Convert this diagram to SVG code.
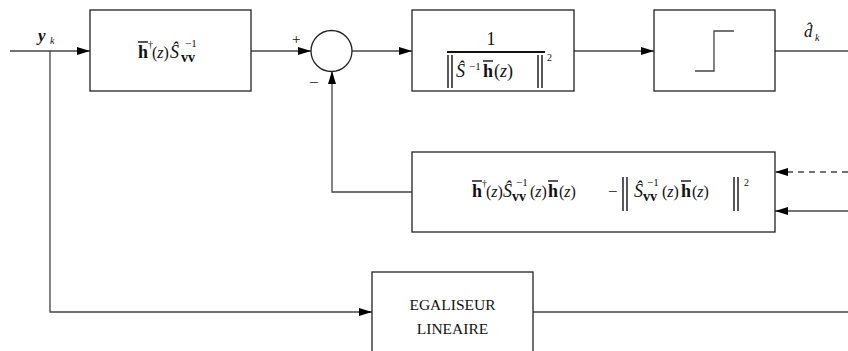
<svg xmlns="http://www.w3.org/2000/svg" width="848" height="351" viewBox="0 0 848 351">
<style>
.box{fill:#fff;stroke:#222;stroke-width:1.3}
.ln{fill:none;stroke:#444;stroke-width:1.3}
.bar{stroke:#111;stroke-width:1.4}
</style>
<defs>
<marker id="ah" markerWidth="13" markerHeight="8" refX="13" refY="4" orient="auto" markerUnits="userSpaceOnUse">
<path d="M0,0 L13,4 L0,8 Z" fill="#000"/>
</marker>
</defs>
<rect width="848" height="351" fill="#fff"/>
<g id="connectors">
<line class="ln" x1="10" y1="51" x2="90" y2="51" marker-end="url(#ah)"/>
<line class="ln" x1="251" y1="51" x2="311" y2="51" marker-end="url(#ah)"/>
<line class="ln" x1="352" y1="51" x2="412" y2="51" marker-end="url(#ah)"/>
<line class="ln" x1="574" y1="51" x2="654" y2="51" marker-end="url(#ah)"/>
<line class="ln" x1="775" y1="51" x2="848" y2="51"/>
<polyline class="ln" points="412,192 332,192 332,71" marker-end="url(#ah)"/>
<line class="ln" x1="848" y1="172" x2="775" y2="172" stroke-dasharray="6,5" marker-end="url(#ah)"/>
<line class="ln" x1="848" y1="211" x2="775" y2="211" marker-end="url(#ah)"/>
<polyline class="ln" points="50,51 50,312 372,312" marker-end="url(#ah)"/>
<line class="ln" x1="533" y1="312" x2="848" y2="312"/>
</g>
<g font-family="Liberation Serif, Times New Roman, serif" fill="#111" font-size="17">
<g id="labels">
<text x="38" y="41" font-style="italic" font-weight="bold">y</text>
<text x="50" y="44" font-style="italic" font-size="10">k</text>
<text x="292" y="44" font-size="15">+</text>
<text x="309" y="88">−</text>
<text x="804" y="37" font-style="italic">d̂</text>
<text x="815" y="41" font-style="italic" font-size="10">k</text>
</g>
<g id="filter">
<rect class="box" x="90" y="10" width="161" height="81"/>
<text x="138" y="58" font-weight="bold" font-size="18">h</text>
<line class="bar" x1="138" y1="42" x2="148" y2="42"/>
<text x="148" y="48" font-size="10">†</text>
<text x="152" y="58" font-size="16">(<tspan font-style="italic">z</tspan>)</text>
<text x="170" y="58" font-style="italic" font-size="18">Ŝ</text>
<text x="185" y="47" font-size="11">−1</text>
<text x="181" y="62" font-weight="bold" font-size="14">vv</text>
</g>
<g id="sum">
<circle class="box" cx="331.5" cy="51" r="20.5"/>
</g>
<g id="norm">
<rect class="box" x="412" y="10" width="162" height="81"/>
<text x="491" y="45" text-anchor="middle" font-size="18">1</text>
<rect x="447" y="51" width="98" height="2" fill="#111"/>
<line class="bar" x1="448" y1="55" x2="448" y2="88"/>
<line class="bar" x1="452" y1="55" x2="452" y2="88"/>
<text x="456" y="77" font-style="italic" font-size="18">Ŝ</text>
<text x="469" y="70" font-size="11">−1</text>
<text x="483" y="77" font-weight="bold" font-size="18">h</text>
<line class="bar" x1="483" y1="61" x2="493" y2="61"/>
<text x="494" y="77" font-size="18">(<tspan font-style="italic">z</tspan>)</text>
<line class="bar" x1="538" y1="55" x2="538" y2="88"/>
<line class="bar" x1="542" y1="55" x2="542" y2="88"/>
<text x="547" y="61" font-size="10">2</text>
</g>
<g id="decision">
<rect class="box" x="654" y="10" width="121" height="81"/>
<polyline class="ln" points="695,71 714,71 714,31 734,31"/>
</g>
<g id="energy">
<rect class="box" x="412" y="152" width="363" height="80"/>
<text x="472" y="197" font-weight="bold" font-size="18">h</text>
<line class="bar" x1="472" y1="181" x2="482" y2="181"/>
<text x="482" y="187" font-size="10">†</text>
<text x="486" y="197" font-size="16">(<tspan font-style="italic">z</tspan>)</text>
<text x="503" y="197" font-style="italic" font-size="18">Ŝ</text>
<text x="516" y="186" font-size="11">−1</text>
<text x="512" y="201" font-weight="bold" font-size="14">vv</text>
<text x="530" y="197" font-size="16">(<tspan font-style="italic">z</tspan>)</text>
<text x="548" y="197" font-weight="bold" font-size="18">h</text>
<line class="bar" x1="548" y1="181" x2="558" y2="181"/>
<text x="559" y="197" font-size="16">(<tspan font-style="italic">z</tspan>)</text>
<text x="608" y="197">−</text>
<line class="bar" x1="623" y1="177" x2="623" y2="211"/>
<line class="bar" x1="627" y1="177" x2="627" y2="211"/>
<text x="634" y="197" font-style="italic" font-size="18">Ŝ</text>
<text x="647" y="186" font-size="11">−1</text>
<text x="643" y="201" font-weight="bold" font-size="14">vv</text>
<text x="662" y="197" font-size="16">(<tspan font-style="italic">z</tspan>)</text>
<text x="681" y="197" font-weight="bold" font-size="18">h</text>
<line class="bar" x1="681" y1="181" x2="691" y2="181"/>
<text x="692" y="197" font-size="16">(<tspan font-style="italic">z</tspan>)</text>
<line class="bar" x1="734" y1="177" x2="734" y2="211"/>
<line class="bar" x1="738" y1="177" x2="738" y2="211"/>
<text x="744" y="186" font-size="10">2</text>
</g>
<g id="equalizer">
<rect class="box" x="372" y="272" width="161" height="100"/>
<text x="452.5" y="310" text-anchor="middle" font-size="15.5">EGALISEUR</text>
<text x="452.5" y="334" text-anchor="middle" font-size="15.5">LINEAIRE</text>
</g>
</g>
</svg>
